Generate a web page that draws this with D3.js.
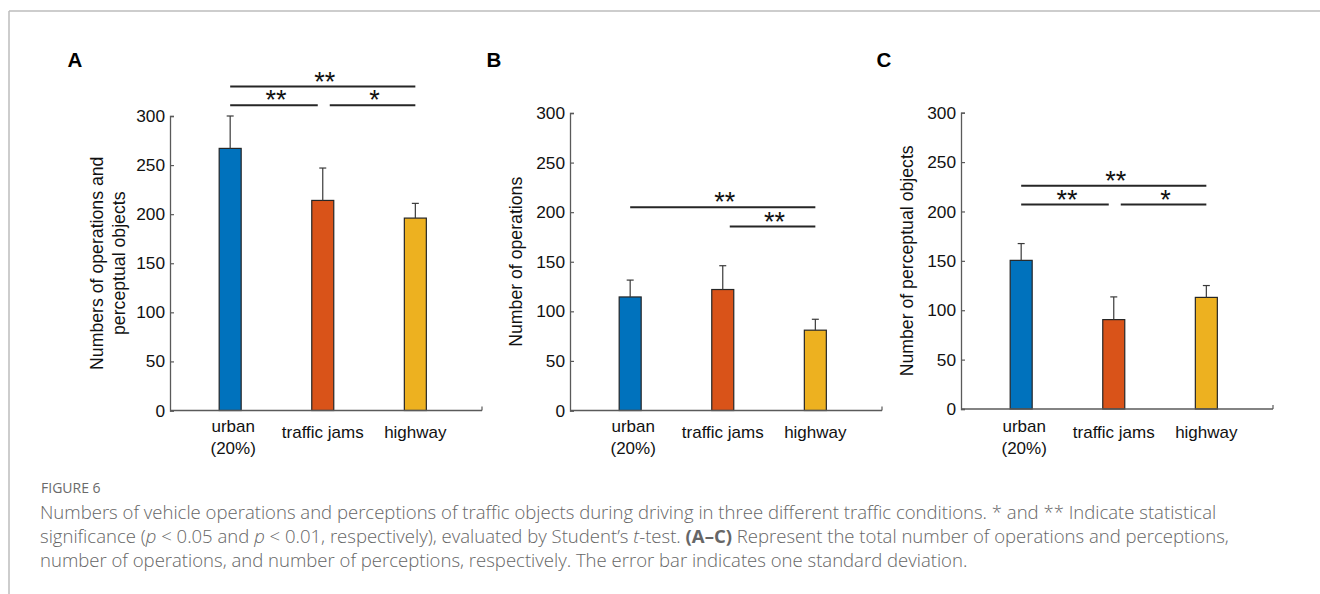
<!DOCTYPE html>
<html><head><meta charset="utf-8">
<script src="https://cdn.jsdelivr.net/npm/d3@7/dist/d3.min.js"></script>
<style>
body{margin:0;background:#fff;}
svg{display:block;}
</style></head>
<body>
<svg id="c" width="1320" height="594"></svg>
<script>
// ---- data ----
const categories = ["urban", "traffic jams", "highway"];
const categorySub = ["(20%)", "", ""];
const barColors = ["#0072BD", "#D95319", "#EDB120"];
const yTicks = [0, 50, 100, 150, 200, 250, 300];

const meansA = [267, 214, 196];
const sdA    = [33, 33, 15];
const meansB = [114.5, 122, 81];
const sdB    = [17, 24, 11];
const meansC = [150.5, 90.5, 113];
const sdC    = [17, 23, 12];

// significance brackets: [fromIndex, toIndex, yValue, label]
const sigA = [[0, 2, 330, "**"], [0, 1, 311, "**"], [1, 2, 311, "*"]];
const sigB = [[0, 2, 205, "**"], [1, 2, 185.5, "**"]];
const sigC = [[0, 2, 226, "**"], [0, 1, 207, "**"], [1, 2, 207, "*"]];

const panelLetters = ["A", "B", "C"];
const yLabels = [["Numbers of operations and", "perceptual objects"], ["Number of operations"], ["Number of perceptual objects"]];

// ---- layout ----
const panels = [
  {letter: panelLetters[0], means: meansA, sd: sdA, sig: sigA, ylab: yLabels[0], x0: 170, yTop: 116, yBot: 410.5, lx: 75, ylx: [97, 119]},
  {letter: panelLetters[1], means: meansB, sd: sdB, sig: sigB, ylab: yLabels[1], x0: 570, yTop: 113, yBot: 410.5, lx: 494, ylx: [516]},
  {letter: panelLetters[2], means: meansC, sd: sdC, sig: sigC, ylab: yLabels[2], x0: 961, yTop: 112.7, yBot: 409, lx: 884, ylx: [907]}
];
const axisW = 312;
const barW = 22;
const font = "'Liberation Sans', Arial, Helvetica, sans-serif";
const axisColor = "#5a5a5a";

const svg = d3.select("#c");

// frame
svg.append("line").attr("x1", 9).attr("x2", 1320).attr("y1", 11).attr("y2", 11).attr("stroke", "#bdbdbd").attr("stroke-width", 1.5);
svg.append("line").attr("x1", 9).attr("x2", 9).attr("y1", 11).attr("y2", 594).attr("stroke", "#bdbdbd").attr("stroke-width", 1.5);

panels.forEach(p => {
  const g = svg.append("g");
  const x = d3.scaleLinear().domain([0.35, 3.72]).range([p.x0, p.x0 + axisW]);
  const y = d3.scaleLinear().domain([0, 300]).range([p.yBot, p.yTop]);

  // panel letter
  g.append("text").attr("x", p.lx).attr("y", 67).attr("text-anchor", "middle")
    .attr("font-family", font).attr("font-weight", "bold").attr("font-size", 20.5).attr("fill", "#000").text(p.letter);

  // y axis
  const yAxis = d3.axisLeft(y).tickValues(yTicks).tickSizeInner(-4).tickSizeOuter(-4).tickPadding(5);
  const ya = g.append("g").attr("transform", `translate(${p.x0},0)`).call(yAxis);
  ya.select(".domain").attr("stroke", axisColor).attr("stroke-width", 1.3);
  ya.selectAll(".tick line").attr("stroke", axisColor).attr("stroke-width", 1.2);
  ya.selectAll(".tick text").attr("font-family", font).attr("font-size", 17.3).attr("fill", "#111");

  // bars
  p.means.forEach((m, i) => {
    const cx = x(i + 1);
    g.append("rect").attr("x", cx - barW / 2).attr("y", y(m)).attr("width", barW).attr("height", y(0) - y(m))
      .attr("fill", barColors[i]).attr("stroke", "#262626").attr("stroke-width", 1.2);
    // error bar (upper)
    g.append("line").attr("x1", cx).attr("x2", cx).attr("y1", y(m)).attr("y2", y(m + p.sd[i])).attr("stroke", "#3a3a3a").attr("stroke-width", 1.2);
    g.append("line").attr("x1", cx - 3.5).attr("x2", cx + 3.5).attr("y1", y(m + p.sd[i])).attr("y2", y(m + p.sd[i])).attr("stroke", "#3a3a3a").attr("stroke-width", 1.2);
  });

  // x axis line
  g.append("line").attr("x1", p.x0).attr("x2", p.x0 + axisW).attr("y1", y(0)).attr("y2", y(0)).attr("stroke", axisColor).attr("stroke-width", 1.3);
  g.append("line").attr("x1", p.x0 + axisW).attr("x2", p.x0 + axisW).attr("y1", y(0)).attr("y2", y(0) - 4).attr("stroke", axisColor).attr("stroke-width", 1.2);

  // category labels
  categories.forEach((c, i) => {
    const cx = x(i + 1) + (i === 0 ? 3 : 0);
    const t = g.append("text").attr("x", cx).attr("text-anchor", "middle")
      .attr("font-family", font).attr("font-size", 17).attr("fill", "#111");
    if (categorySub[i]) {
      t.attr("y", 432).text(c);
      g.append("text").attr("x", cx).attr("y", 454).attr("text-anchor", "middle")
        .attr("font-family", font).attr("font-size", 17).attr("fill", "#111").text(categorySub[i]);
    } else {
      t.attr("y", 438).text(c);
    }
  });

  // y label
  const ymid = (p.yTop + p.yBot) / 2;
  p.ylab.forEach((l, k) => {
    g.append("text").attr("transform", `translate(${p.ylx[k] + 6},${ymid}) rotate(-90)`).attr("text-anchor", "middle")
      .attr("font-family", font).attr("font-size", 17.7).attr("fill", "#111").text(l);
  });

  // significance brackets
  p.sig.forEach(s => {
    const full = (s[1] - s[0]) === 2;
    let x1 = x(s[0] + 1), x2 = x(s[1] + 1);
    if (!full) {
      if (s[0] === 0) x2 = x(2) - 5; else x1 = x(2) + 7;
    }
    const yy = y(s[2]);
    g.append("line").attr("x1", x1).attr("x2", x2).attr("y1", yy).attr("y2", yy).attr("stroke", "#262626").attr("stroke-width", 2);
    g.append("text").attr("x", (x1 + x2) / 2 + 2).attr("y", yy + 4).attr("text-anchor", "middle")
      .attr("font-family", font).attr("font-size", 27).attr("fill", "#111").text(s[3]);
  });
});

// caption
const capFont = "'Open Sans', 'Noto Sans', sans-serif";
svg.append("text").attr("x", 41).attr("y", 493).attr("font-family", capFont).attr("font-size", 14)
  .attr("fill", "#6a6a6a").text("FIGURE 6");

const capLines = [
  [["Numbers of vehicle operations and perceptions of traffic objects during driving in three different traffic conditions. * and ** Indicate statistical", ""]],
  [["significance (", ""], ["p", "i"], [" < 0.05 and ", ""], ["p", "i"], [" < 0.01, respectively), evaluated by Student’s ", ""], ["t", "i"], ["-test. ", ""], ["(A–C)", "b"], [" Represent the total number of operations and perceptions,", ""]],
  [["number of operations, and number of perceptions, respectively. The error bar indicates one standard deviation.", ""]]
];
capLines.forEach((line, li) => {
  const t = svg.append("text").attr("x", 40).attr("y", 519 + li * 24).attr("font-family", capFont)
    .attr("font-size", 18.55).attr("fill", "#666").attr("font-weight", 300);
  line.forEach(seg => {
    const ts = t.append("tspan").text(seg[0]);
    if (seg[1] === "i") ts.attr("font-style", "italic");
    if (seg[1] === "b") ts.attr("font-weight", "bold");
  });
});
</script>
</body></html>
